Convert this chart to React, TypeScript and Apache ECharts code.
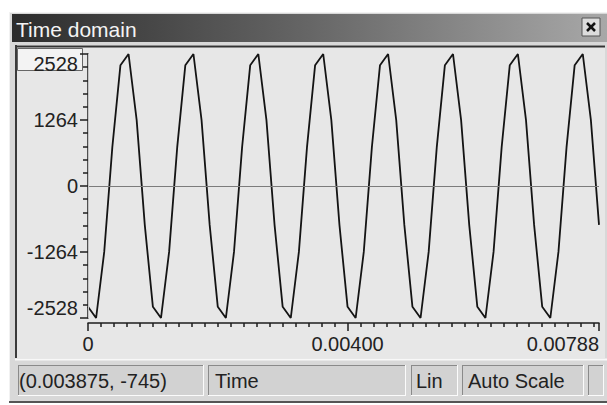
import React, { useEffect, useRef } from 'react';
import * as echarts from 'echarts';

const TITLE = 'Time domain';
const SAMPLE_PERIOD = 1 / 8000;
const SIGNAL = [
  -2314, -2528, -1262, 745, 2314, 2528, 1262, -745,
  -2314, -2528, -1262, 745, 2314, 2528, 1262, -745,
  -2314, -2528, -1262, 745, 2314, 2528, 1262, -745,
  -2314, -2528, -1262, 745, 2314, 2528, 1262, -745,
  -2314, -2528, -1262, 745, 2314, 2528, 1262, -745,
  -2314, -2528, -1262, 745, 2314, 2528, 1262, -745,
  -2314, -2528, -1262, 745, 2314, 2528, 1262, -745,
  -2314, -2528, -1262, 745, 2314, 2528, 1262, -745,
];
const Y_TICKS = [-2528, -1264, 0, 1264, 2528];
const X_TICKS = [0, 0.004, 0.007875];
const X_TICK_LABELS = ['0', '0.00400', '0.00788'];
const STATUS_TEXTS = ['(0.003875, -745)', 'Time', 'Lin', 'Auto Scale', ''];

const FONT = '"Liberation Sans", Arial, sans-serif';

function sunkenPanel(x: number, y: number, w: number, h: number, fill: string) {
  return [
    { type: 'rect', z: -10, silent: true, shape: { x, y, width: w, height: h }, style: { fill } },
    { type: 'line', z: -9, silent: true, shape: { x1: x, y1: y + 0.5, x2: x + w, y2: y + 0.5 }, style: { stroke: '#8a8a8a', lineWidth: 1 } },
    { type: 'line', z: -9, silent: true, shape: { x1: x + 0.5, y1: y, x2: x + 0.5, y2: y + h }, style: { stroke: '#8a8a8a', lineWidth: 1 } },
    { type: 'line', z: -9, silent: true, shape: { x1: x, y1: y + h - 0.5, x2: x + w, y2: y + h - 0.5 }, style: { stroke: '#fbfbfb', lineWidth: 1 } },
    { type: 'line', z: -9, silent: true, shape: { x1: x + w - 0.5, y1: y, x2: x + w - 0.5, y2: y + h }, style: { stroke: '#fbfbfb', lineWidth: 1 } },
  ];
}

function text(t: string, x: number, y: number, size: number, fill: string, align = 'left') {
  return {
    type: 'text',
    z: 5,
    silent: true,
    x,
    y,
    style: {
      text: t,
      fill,
      fontSize: size,
      fontFamily: FONT,
      textAlign: align,
      textVerticalAlign: 'middle',
      align,
      verticalAlign: 'middle',
    },
  };
}

export default function App() {
  const ref = useRef<HTMLDivElement>(null);

  useEffect(() => {
    if (!ref.current) return;
    const chart = echarts.init(ref.current, undefined, { renderer: 'svg' });

    const data = SIGNAL.map((v, i) => [i * SAMPLE_PERIOD, v]);

    const statusPanels = [
      [18, 186],
      [208, 198],
      [411, 47],
      [462, 122],
      [588, 16],
    ];
    const statusTextX = [19, 215, 416, 468, 592];

    const graphic: any[] = [
      // window body
      { type: 'rect', z: -12, silent: true, shape: { x: 9, y: 12, width: 598, height: 391 }, style: { fill: '#d8d8d8' } },
      { type: 'line', z: -11, silent: true, shape: { x1: 9.5, y1: 12, x2: 9.5, y2: 403 }, style: { stroke: '#f2f2f2', lineWidth: 1 } },
      { type: 'line', z: -11, silent: true, shape: { x1: 9, y1: 12.5, x2: 607, y2: 12.5 }, style: { stroke: '#f2f2f2', lineWidth: 1 } },
      { type: 'line', z: -11, silent: true, shape: { x1: 9, y1: 402, x2: 607, y2: 402 }, style: { stroke: '#555555', lineWidth: 2 } },
      // title bar
      {
        type: 'rect', z: -11, silent: true,
        shape: { x: 12, y: 14, width: 595, height: 28 },
        style: {
          fill: new echarts.graphic.LinearGradient(0, 0, 1, 0, [
            { offset: 0, color: '#2c2c2c' },
            { offset: 0.5, color: '#666666' },
            { offset: 1, color: '#a8a8a8' },
          ]),
        },
      },
      text(TITLE, 16, 29, 21, '#f4f4f4'),
      // close button
      { type: 'rect', z: -10, silent: true, shape: { x: 582, y: 18, width: 18, height: 18 }, style: { fill: '#dcdcdc', stroke: '#555', lineWidth: 1 } },
      { type: 'line', z: -9, silent: true, shape: { x1: 587, y1: 23, x2: 595, y2: 31 }, style: { stroke: '#111', lineWidth: 2.5 } },
      { type: 'line', z: -9, silent: true, shape: { x1: 595, y1: 23, x2: 587, y2: 31 }, style: { stroke: '#111', lineWidth: 2.5 } },
      // plot panel
      { type: 'rect', z: -10, silent: true, shape: { x: 15, y: 45, width: 590, height: 313 }, style: { fill: '#e7e7e7' } },
      { type: 'line', z: -9, silent: true, shape: { x1: 15, y1: 46.5, x2: 605, y2: 46.5 }, style: { stroke: '#333333', lineWidth: 2 } },
      { type: 'line', z: -9, silent: true, shape: { x1: 16, y1: 45, x2: 16, y2: 358 }, style: { stroke: '#3a3a3a', lineWidth: 2 } },
      { type: 'line', z: -9, silent: true, shape: { x1: 15, y1: 359.5, x2: 607, y2: 359.5 }, style: { stroke: '#f8f8f8', lineWidth: 2 } },
      // highlighted max-label box
      { type: 'rect', z: -8, silent: true, shape: { x: 17.5, y: 48.5, width: 65, height: 22 }, style: { fill: '#f3f3f3', stroke: '#666', lineWidth: 1 } },
    ];

    statusPanels.forEach(([x, w]) => {
      graphic.push(...sunkenPanel(x, 365, w, 31, '#d2d2d2'));
    });
    STATUS_TEXTS.forEach((t, i) => {
      if (t) graphic.push(text(t, statusTextX[i], 381, 20, '#222222'));
    });

    chart.setOption({
      animation: false,
      backgroundColor: '#ffffff',
      textStyle: { fontFamily: FONT },
      grid: { left: 88, right: 8, top: 54, bottom: 87, containLabel: false },
      xAxis: {
        type: 'value',
        min: X_TICKS[0],
        max: X_TICKS[2],
        interval: X_TICKS[1] - X_TICKS[0],
        offset: 5,
        axisLine: { show: true, onZero: false, lineStyle: { color: '#1e1e1e', width: 1.5 } },
        axisTick: { show: true, length: 8, lineStyle: { color: '#1e1e1e', width: 1.5 } },
        minorTick: { show: true, splitNumber: 20, length: 4, lineStyle: { color: '#1e1e1e', width: 1.5 } },
        splitLine: { show: false },
        axisLabel: {
          fontSize: 20,
          fontFamily: FONT,
          color: '#222222',
          margin: 11,
          alignMaxLabel: 'right',
          showMinLabel: true,
          showMaxLabel: true,
          formatter: (_v: number, i: number) => X_TICK_LABELS[i] ?? '',
        },
      },
      yAxis: {
        type: 'value',
        min: Y_TICKS[0],
        max: Y_TICKS[Y_TICKS.length - 1],
        interval: Y_TICKS[1] - Y_TICKS[0],
        axisLine: { show: true, onZero: false, lineStyle: { color: '#1e1e1e', width: 1.5 } },
        axisTick: { show: true, length: 8, lineStyle: { color: '#1e1e1e', width: 1.5 } },
        minorTick: { show: true, splitNumber: 5, length: 5, lineStyle: { color: '#1e1e1e', width: 1.5 } },
        splitLine: { show: false },
        axisLabel: {
          fontSize: 20,
          fontFamily: FONT,
          color: '#222222',
          margin: 10,
          verticalAlignMaxLabel: 'top',
          verticalAlignMinLabel: 'bottom',
          formatter: (v: number) => String(v),
        },
      },
      series: [
        {
          type: 'line',
          data,
          showSymbol: false,
          symbol: 'none',
          z: 3,
          lineStyle: { color: '#141414', width: 1.8 },
          markLine: {
            silent: true,
            symbol: ['none', 'none'],
            label: { show: false },
            animation: false,
            data: [
              { yAxis: 0, lineStyle: { color: '#7c7c7c', width: 1, type: 'solid' } },
              { xAxis: X_TICKS[1], lineStyle: { color: '#c4c4c4', width: 1, type: 'solid' } },
            ],
          },
        },
      ],
      graphic,
    });

    return () => chart.dispose();
  }, []);

  return (
    <div
      ref={ref}
      style={{ position: 'fixed', left: 0, top: 0, width: 607, height: 405 }}
    />
  );
}
